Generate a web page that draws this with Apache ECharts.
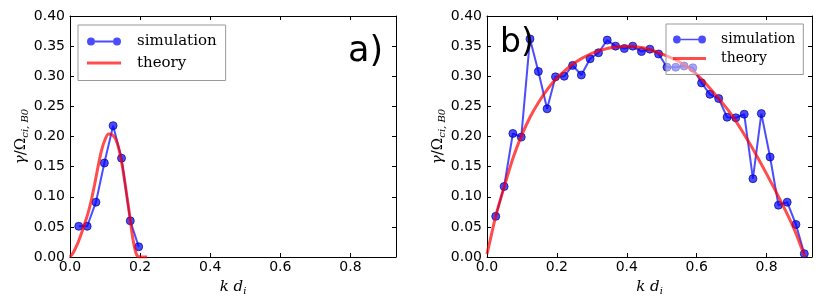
<!DOCTYPE html>
<html><head><meta charset="utf-8">
<script src="https://cdn.jsdelivr.net/npm/echarts@6/dist/echarts.min.js"></script>
<style>html,body{margin:0;padding:0;background:#fff}#c{width:822px;height:304px}</style>
</head><body><div id="c"></div>
<script>
// ---- data ----
const simAx = [0.025,0.049,0.074,0.098,0.123,0.147,0.172,0.196];
const simAy = [0.051,0.051,0.091,0.156,0.218,0.164,0.060,0.017];
const theoryAx = [0,0.01,0.02,0.03,0.04,0.05,0.06,0.07,0.08,0.09,0.10,0.11,0.12,0.13,0.14,0.15,0.16,0.17,0.18,0.19,0.20,0.22];
const theoryAy = [0,0.008,0.02,0.035,0.052,0.07,0.092,0.12,0.15,0.177,0.195,0.204,0.203,0.196,0.178,0.148,0.11,0.07,0.028,0.004,0,0];

const simBx = [0.025,0.049,0.074,0.098,0.123,0.147,0.172,0.196,0.221,0.245,0.270,0.295,0.319,0.344,0.368,0.393,0.417,0.442,0.466,0.491,0.515,0.540,0.564,0.589,0.614,0.638,0.663,0.687,0.712,0.736,0.761,0.785,0.810,0.834,0.859,0.884,0.908];
const simBy = [0.0675,0.117,0.205,0.199,0.362,0.308,0.246,0.299,0.300,0.318,0.302,0.329,0.339,0.360,0.350,0.346,0.350,0.341,0.345,0.337,0.315,0.315,0.317,0.314,0.289,0.270,0.263,0.232,0.231,0.237,0.130,0.238,0.166,0.086,0.091,0.054,0.0055];
const theoryBx = [0,0.01,0.025,0.05,0.075,0.1,0.125,0.15,0.175,0.2,0.25,0.3,0.35,0.4,0.45,0.5,0.55,0.6,0.65,0.7,0.75,0.8,0.85,0.88,0.9,0.91];
const theoryBy = [0.005,0.03,0.068,0.118,0.165,0.203,0.234,0.259,0.28,0.297,0.322,0.338,0.347,0.350,0.347,0.337,0.324,0.303,0.272,0.236,0.19,0.138,0.082,0.045,0.015,0.0];

const xTicks = {min:0, max:0.93, interval:0.2};
const yTicks = {min:0, max:0.40, interval:0.05};
const panelLabels = ['a)','b)'];
const seriesNames = ['simulation','theory'];

const zip = (a,b) => a.map((v,i)=>[v,b[i]]);

function xAx(grid, pos, show){
  return {type:'value', gridIndex:grid, position:pos, min:xTicks.min, max:xTicks.max, interval:xTicks.interval,
    splitLine:{show:false},
    axisLine:{show:true,onZero:false,lineStyle:{color:'#000',width:1}},
    axisTick:{show:true,inside:true,length:4,lineStyle:{color:'#000',width:1}},
    axisLabel:{show:show,showMaxLabel:false,margin:3,color:'#000',fontFamily:'DejaVu Sans',fontSize:14,
      formatter:v=>v.toFixed(1)},
    name: show ? '{k|k d}{s|i}' : '', nameLocation:'middle', nameGap:21,
    nameTextStyle:{color:'#000', rich:{
      k:{fontFamily:'DejaVu Serif',fontStyle:'italic',fontSize:15,color:'#000'},
      s:{fontFamily:'DejaVu Serif',fontStyle:'italic',fontSize:10,color:'#000',padding:[8,0,0,0]}}}
  };
}
function yAx(grid, pos, show){
  return {type:'value', gridIndex:grid, position:pos, min:yTicks.min, max:yTicks.max, interval:yTicks.interval,
    splitLine:{show:false},
    axisLine:{show:true,onZero:false,lineStyle:{color:'#000',width:1}},
    axisTick:{show:true,inside:true,length:4,lineStyle:{color:'#000',width:1}},
    axisLabel:{show:show,margin:5,color:'#000',fontFamily:'DejaVu Sans',fontSize:14,
      formatter:v=>v.toFixed(2)},
    name: show ? '{g|γ}{r|/Ω}{s|ci, B0}' : '', nameLocation:'middle', nameGap:40, nameRotate:90,
    nameTextStyle:{color:'#000', rich:{
      g:{fontFamily:'DejaVu Serif',fontStyle:'italic',fontSize:15,color:'#000'},
      r:{fontFamily:'DejaVu Serif',fontSize:15,color:'#000'},
      s:{fontFamily:'DejaVu Serif',fontStyle:'italic',fontSize:10,color:'#000',padding:[8,0,0,0]}}}
  };
}

const simIcon = 'path://M0,4A4,4,0,1,1,8,4A4,4,0,1,1,0,4Z M8,3.1L26,3.1L26,4.9L8,4.9Z M26,4A4,4,0,1,1,34,4A4,4,0,1,1,26,4Z';
const thIcon = 'path://M0,0L34,0L34,3L0,3Z';

function simSeries(xi, data){
  return {type:'line', name:seriesNames[0], xAxisIndex:xi, yAxisIndex:xi, data:data,
    symbol:'circle', symbolSize:8, z:2,
    lineStyle:{color:'rgba(0,0,255,0.7)',width:2},
    itemStyle:{color:'rgba(0,0,255,0.7)',borderColor:'rgba(0,0,150,0.7)',borderWidth:1},
    emphasis:{disabled:true}, animation:false};
}
function thSeries(xi, data){
  return {type:'line', name:seriesNames[1], xAxisIndex:xi, yAxisIndex:xi, data:data,
    symbol:'none', smooth:0.3, z:3,
    lineStyle:{color:'rgba(255,0,0,0.7)',width:3},
    itemStyle:{color:'rgba(255,0,0,0.7)'},
    emphasis:{disabled:true}, animation:false};
}

function legendItems(){
  return [
    {name:seriesNames[0], icon:simIcon, itemStyle:{color:'rgba(0,0,255,0.7)',borderWidth:0}},
    {name:seriesNames[1], icon:thIcon, itemStyle:{color:'rgba(255,0,0,0.7)',borderWidth:0}}
  ];
}

const chart = echarts.init(document.getElementById('c'), null, {renderer:'canvas'});
chart.setOption({
  animation:false,
  backgroundColor:'#fff',
  grid:[
    {left:70, top:16, width:326, height:241, containLabel:false, outerBoundsMode:'none'},
    {left:487, top:16, width:325, height:241, containLabel:false, outerBoundsMode:'none'}
  ],
  xAxis:[xAx(0,'bottom',true), xAx(0,'top',false), xAx(1,'bottom',true), xAx(1,'top',false)],
  yAxis:[yAx(0,'left',true), yAx(0,'right',false), yAx(1,'left',true), yAx(1,'right',false)],
  legend:[
    {orient:'vertical', left:78, top:25, padding:[9,9,10,9], itemGap:6.5, itemWidth:34, itemHeight:8,
     symbolKeepAspect:true,
     itemStyle:{borderWidth:0}, lineStyle:{width:0},
     borderColor:'#999', borderWidth:1, borderRadius:0, backgroundColor:'#fff',
     textStyle:{fontFamily:'DejaVu Serif',fontSize:15,color:'#000',padding:[0,0,0,11]},
     selectedMode:false,
     data:legendItems()},
    {orient:'vertical', left:666, top:24, padding:[8.5,8,9,7], itemGap:5, itemWidth:33, itemHeight:8,
     symbolKeepAspect:true,
     itemStyle:{borderWidth:0}, lineStyle:{width:0},
     borderColor:'#999', borderWidth:1, borderRadius:0, backgroundColor:'rgba(255,255,255,0.5)',
     textStyle:{fontFamily:'DejaVu Serif',fontSize:14,color:'#000',padding:[0,0,0,10]},
     selectedMode:false,
     data:legendItems()}
  ],
  graphic:[
    {type:'text', left:348, top:34, z:10, style:{text:panelLabels[0], font:'35px "DejaVu Sans"', fill:'#000'}},
    {type:'text', left:500, top:27, z:10, style:{text:panelLabels[1], font:'33px "DejaVu Sans"', fill:'#000'}}
  ],
  series:[
    simSeries(0, zip(simAx, simAy)),
    thSeries(0, zip(theoryAx, theoryAy)),
    simSeries(2, zip(simBx, simBy)),
    thSeries(2, zip(theoryBx, theoryBy))
  ]
});
</script></body></html>
